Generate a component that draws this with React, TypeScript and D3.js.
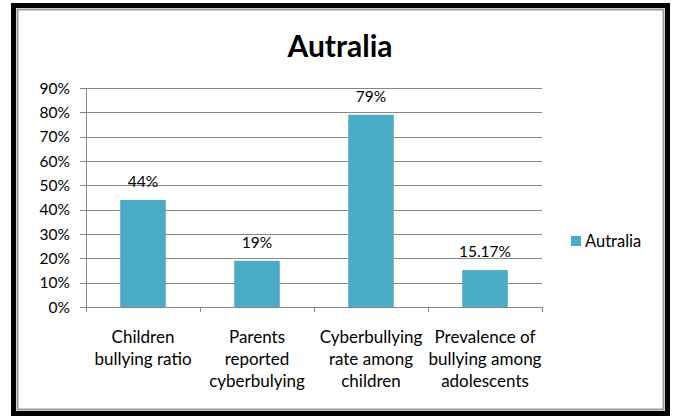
import React from "react";
import * as d3 from "d3";

const categories: string[][] = [
  ["Children", "bullying ratio"],
  ["Parents", "reported", "cyberbulying"],
  ["Cyberbullying", "rate among", "children"],
  ["Prevalence of", "bullying among", "adolescents"],
];
const values: number[] = [0.44, 0.19, 0.79, 0.1517];
const valueLabels: string[] = ["44%", "19%", "79%", "15.17%"];
const yTicks: number[] = [0, 0.1, 0.2, 0.3, 0.4, 0.5, 0.6, 0.7, 0.8, 0.9];
const title = "Autralia";
const seriesName = "Autralia";

const W = 677;
const H = 417;
const FONT = "Lato, 'Open Sans', sans-serif";
const BAR = "#4BACC6";
const GRID = "#868686";

export default function App() {
  const x0 = 86, x1 = 542, y0 = 307, y1 = 88;
  const y = d3.scaleLinear().domain([0, 0.9]).range([y0, y1]);
  const band = d3
    .scaleBand<number>()
    .domain(d3.range(categories.length))
    .range([x0, x1])
    .paddingInner(0.6)
    .paddingOuter(0.3);
  const step = (x1 - x0) / categories.length;
  const bounds = d3.range(categories.length + 1).map((i) => x0 + i * step);

  return (
    <svg
      width={W}
      height={H}
      style={{ position: "absolute", left: 0, top: 0, background: "#fff" }}
      fontFamily={FONT}
    >
      <rect x={0} y={0} width={W} height={H} fill="#fff" />
      <rect x={13.5} y={5.5} width={654} height={408} fill="none" stroke="#000" strokeWidth={5} />
      <rect x={17.5} y={9.5} width={646} height={400} fill="none" stroke="#9a9a9a" strokeWidth={2} />

      <text x={340} y={57} textAnchor="middle" fontSize={30} fontWeight="bold" fill="#000">
        {title}
      </text>

      {yTicks.map((t) => (
        <g key={t}>
          <line x1={x0 - 6} x2={x1} y1={Math.round(y(t)) + 0.5} y2={Math.round(y(t)) + 0.5} stroke={GRID} strokeWidth={1} />
          <text x={70} y={y(t) + 5.5} textAnchor="end" fontSize={15.5} fill="#000">
            {Math.round(t * 100)}%
          </text>
        </g>
      ))}
      <line x1={x0 + 0.5} x2={x0 + 0.5} y1={y1} y2={y0 + 5} stroke={GRID} strokeWidth={1} />
      {bounds.map((b, i) => (
        <line key={i} x1={Math.round(b) + 0.5} x2={Math.round(b) + 0.5} y1={y0} y2={y0 + 5} stroke={GRID} strokeWidth={1} />
      ))}

      {values.map((v, i) => (
        <g key={i}>
          <rect x={band(i)} y={y(v)} width={band.bandwidth()} height={y0 - y(v)} fill={BAR} />
          <text x={(band(i) as number) + band.bandwidth() / 2} y={y(v) - 13} textAnchor="middle" fontSize={15.5} fill="#000">
            {valueLabels[i]}
          </text>
        </g>
      ))}

      {categories.map((lines, i) => (
        <text key={i} textAnchor="middle" fontSize={17} fill="#000">
          {lines.map((l, j) => (
            <tspan key={j} x={x0 + step * (i + 0.5)} y={343 + j * 22}>
              {l}
            </tspan>
          ))}
        </text>
      ))}

      <rect x={571} y={236} width={10} height={10} fill={BAR} />
      <text x={585} y={246.5} fontSize={16.5} fill="#000">
        {seriesName}
      </text>
    </svg>
  );
}
